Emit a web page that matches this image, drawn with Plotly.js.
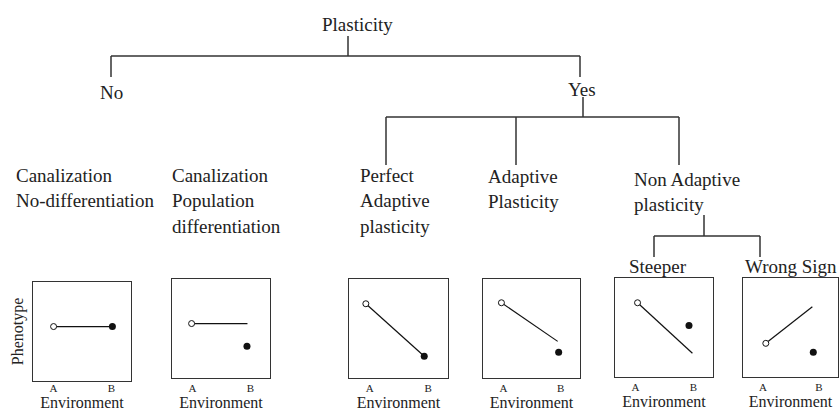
<!DOCTYPE html>
<html>
<head>
<meta charset="utf-8">
<script src="https://cdn.plot.ly/plotly-3.0.1.min.js"></script>
<style>html,body{margin:0;padding:0;background:#fff;}#chart{width:839px;height:412px;}</style>
</head>
<body>
<div id="chart"></div>
<script>
// ---- Data ----
// Panel names (leaf categories of the tree)
const panelNames = ['Canalization No-differentiation', 'Canalization Population differentiation',
  'Perfect Adaptive plasticity', 'Adaptive Plasticity', 'Steeper', 'Wrong Sign'];
// Environment A (open circle): x position and phenotype value
const openX = [0.21, 0.20, 0.17, 0.19, 0.23, 0.24];
const openY = [0.55, 0.55, 0.75, 0.76, 0.75, 0.34];
// End of reaction-norm line
const lineEndX = [0.81, 0.77, 0.76, 0.77, 0.79, 0.73];
const lineEndY = [0.55, 0.55, 0.22, 0.37, 0.24, 0.71];
// Environment B (filled circle)
const filledX = [0.81, 0.765, 0.76, 0.78, 0.755, 0.74];
const filledY = [0.55, 0.32, 0.22, 0.26, 0.52, 0.25];
// Tick labels
const tickLabels = ['A', 'B'];
const tickPos = [0.21, 0.80];
const xTitle = 'Environment';
const yTitle = 'Phenotype';

// Tree connectors (diagram coordinates, px-like units of the background axis)
const treeX = [348,348,null, 111,580,null, 111,111,null, 580,580,null, 583,583,null,
  386,679,null, 386,386,null, 516,516,null, 679,679,null,
  704,704,null, 654,760,null, 654,654,null, 760,760];
const treeY = [36,56,null, 56,56,null, 56,77,null, 56,77,null, 97,117,null,
  117,117,null, 117,165,null, 117,165,null, 117,165,null,
  215,236,null, 236,236,null, 236,257,null, 236,257];

// Tree node labels (lines separated by <br>)
const nodeText = ['Plasticity', 'No', 'Yes',
  'Canalization<br>No-differentiation', 'Canalization<br>Population<br>differentiation',
  'Perfect<br>Adaptive<br>plasticity', 'Adaptive<br>Plasticity', 'Non Adaptive<br>plasticity',
  'Steeper', 'Wrong Sign'];
const nodeX = [357, 111, 582, 14, 170, 358, 486, 632, 658, 743];
const nodeY = [24, 92, 89, 175, 175, 175, 176, 179, 266, 266];
const nodeAnchor = ['center','center','center','left','left','left','left','left','center','left'];

// ---- Layout helpers ----
const W = 839, H = 412;
const LINE_GAP = 25.5;
const boxes = [[33,131,282,381],[172,270,279,378],[349,448,279,378],[483,580,279,378],[615,713,278,377],[743,838,278,377]];
const FONT = 'Liberation Serif, Times New Roman, serif';
const INK = '#222';

const data = [];
const layout = {
  width: W, height: H,
  margin: {l:0, r:0, t:0, b:0},
  paper_bgcolor: '#fff', plot_bgcolor: 'rgba(0,0,0,0)',
  showlegend: false,
  font: {family: FONT, color: INK},
  xaxis: {domain:[0,1], range:[0,W], visible:false, fixedrange:true},
  yaxis: {domain:[0,1], range:[H,0], visible:false, fixedrange:true},
  annotations: []
};

data.push({type:'scatter', mode:'lines', x:treeX, y:treeY, xaxis:'x', yaxis:'y',
  line:{color:'#333', width:1.5}, hoverinfo:'skip', connectgaps:false});

for (let i = 0; i < nodeText.length; i++) {
  const lines = nodeText[i].split('<br>');
  lines.forEach((ln, j) => {
    layout.annotations.push({
      xref:'x', yref:'y', x:nodeX[i], y:nodeY[i] + j * LINE_GAP, text:ln, showarrow:false,
      xanchor: nodeAnchor[i], yanchor: 'middle',
      font:{family:FONT, size:19, color:INK}
    });
  });
}

for (let i = 0; i < panelNames.length; i++) {
  const k = i + 2;
  const xa = 'xaxis' + k, ya = 'yaxis' + k;
  const b = boxes[i];
  layout[xa] = {
    domain:[b[0]/W, b[1]/W], range:[0,1], anchor:'y'+k,
    showline:true, mirror:true, linecolor:'#333', linewidth:1,
    showgrid:false, zeroline:false, ticks:'', ticklen:0,
    ticklabelstandoff: (i === 0 ? -3 : 0),
    tickvals:tickPos, ticktext:tickLabels, tickfont:{family:FONT, size:11, color:INK},
    title:{text:xTitle, font:{family:FONT, size:16, color:INK}, standoff:1},
    fixedrange:true
  };
  layout[ya] = {
    domain:[1-b[3]/H, 1-b[2]/H], range:[0,1], anchor:'x'+k,
    showline:true, mirror:true, linecolor:'#333', linewidth:1,
    showgrid:false, zeroline:false, showticklabels:false, ticks:'',
    fixedrange:true
  };
  if (i === 0) {
    layout[ya].title = {text:yTitle, font:{family:FONT, size:16, color:INK}, standoff:4};
  }
  data.push({type:'scatter', mode:'lines', name:panelNames[i],
    x:[openX[i], lineEndX[i]], y:[openY[i], lineEndY[i]],
    xaxis:'x'+k, yaxis:'y'+k, line:{color:'#111', width:1.2}, hoverinfo:'skip'});
  data.push({type:'scatter', mode:'markers', name:panelNames[i] + ' B',
    x:[filledX[i]], y:[filledY[i]], xaxis:'x'+k, yaxis:'y'+k,
    marker:{size:7, color:'#111', line:{width:0}}, hoverinfo:'skip'});
  data.push({type:'scatter', mode:'markers', name:panelNames[i] + ' A',
    x:[openX[i]], y:[openY[i]], xaxis:'x'+k, yaxis:'y'+k,
    marker:{size:6, color:'#fff', line:{width:1, color:'#111'}}, hoverinfo:'skip'});
}

Plotly.newPlot('chart', data, layout, {displayModeBar:false, staticPlot:true});
</script>
</body>
</html>
